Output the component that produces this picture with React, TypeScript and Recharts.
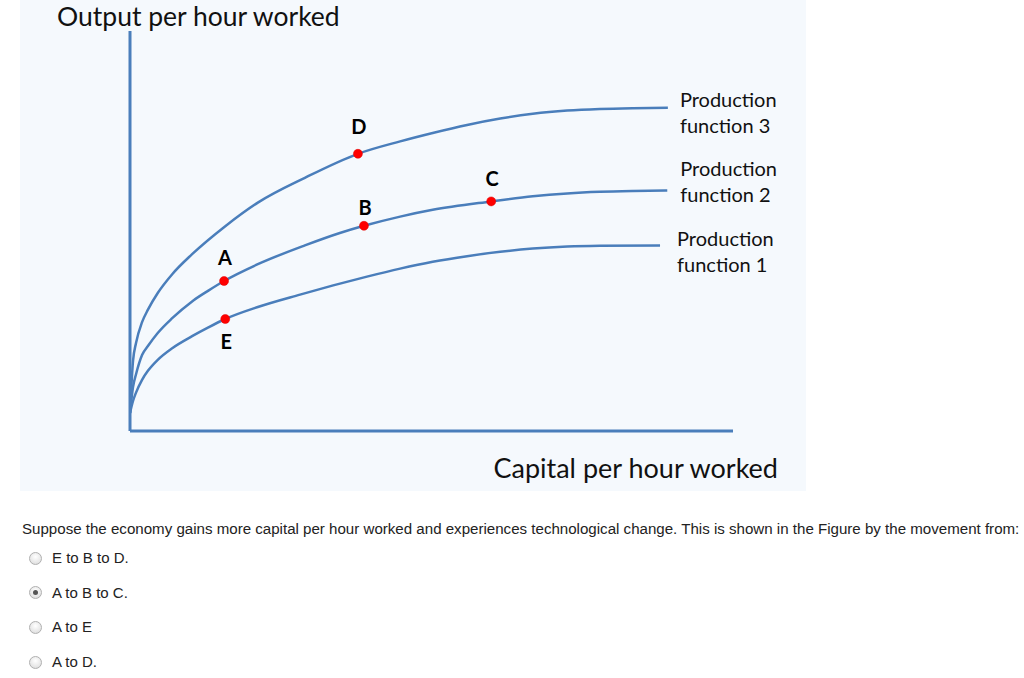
import React from 'react';
import { LineChart, Line, XAxis, YAxis, ReferenceDot } from 'recharts';

// Production function 1 (lowest)
const pf1 = [
  { k: 0, y: 0.45 }, { k: 0.05, y: 0.75 }, { k: 0.1, y: 0.96 }, { k: 0.2, y: 1.28 },
  { k: 0.3, y: 1.51 }, { k: 0.46, y: 1.78 }, { k: 0.7, y: 2.07 }, { k: 1.03, y: 2.37 },
  { k: 1.3, y: 2.59 }, { k: 1.58, y: 2.8 }, { k: 2.12, y: 3.1 }, { k: 2.82, y: 3.41 },
  { k: 3.37, y: 3.64 }, { k: 3.93, y: 3.86 }, { k: 4.48, y: 4.06 }, { k: 5.02, y: 4.23 },
  { k: 5.59, y: 4.37 }, { k: 6.14, y: 4.48 }, { k: 6.68, y: 4.56 }, { k: 7.25, y: 4.61 },
  { k: 7.79, y: 4.63 }, { k: 8.79, y: 4.64 },
];
// Production function 2 (middle)
const pf2 = [
  { k: 0, y: 0.45 }, { k: 0.05, y: 1.1 }, { k: 0.1, y: 1.42 }, { k: 0.2, y: 1.9 },
  { k: 0.3, y: 2.13 }, { k: 0.46, y: 2.45 }, { k: 0.7, y: 2.82 }, { k: 1.03, y: 3.24 },
  { k: 1.3, y: 3.51 }, { k: 1.56, y: 3.75 }, { k: 2.12, y: 4.17 }, { k: 2.9, y: 4.64 },
  { k: 3.48, y: 4.95 }, { k: 3.88, y: 5.13 }, { k: 4.48, y: 5.36 }, { k: 5.02, y: 5.53 },
  { k: 5.99, y: 5.74 }, { k: 6.68, y: 5.87 }, { k: 7.25, y: 5.94 }, { k: 7.79, y: 5.98 },
  { k: 8.34, y: 6.0 }, { k: 8.91, y: 6.01 },
];
// Production function 3 (highest)
const pf3 = [
  { k: 0, y: 0.45 }, { k: 0.05, y: 1.75 }, { k: 0.1, y: 2.2 }, { k: 0.2, y: 2.72 },
  { k: 0.3, y: 3.04 }, { k: 0.46, y: 3.45 }, { k: 0.7, y: 3.92 }, { k: 1.03, y: 4.42 },
  { k: 1.58, y: 5.12 }, { k: 2.12, y: 5.71 }, { k: 2.9, y: 6.33 }, { k: 3.78, y: 6.93 },
  { k: 4.48, y: 7.24 }, { k: 5.02, y: 7.45 }, { k: 5.59, y: 7.65 }, { k: 6.14, y: 7.81 },
  { k: 6.68, y: 7.93 }, { k: 7.25, y: 8.01 }, { k: 7.79, y: 8.05 }, { k: 8.34, y: 8.07 },
  { k: 8.92, y: 8.08 },
];

const curveLabels = [
  ['Production', 'function 1'],
  ['Production', 'function 2'],
  ['Production', 'function 3'],
];

const pointNames = ['A', 'B', 'C', 'D', 'E'];
const pointCapital = [1.56, 3.88, 5.99, 3.78, 1.58];
const pointOutput = [3.75, 5.13, 5.74, 6.93, 2.8];

const yTitle = 'Output per hour worked';
const xTitle = 'Capital per hour worked';

const question =
  'Suppose the economy gains more capital per hour worked and experiences technological change. This is shown in the Figure by the movement from:';
const options = ['E to B to D.', 'A to B to C.', 'A to E', 'A to D.'];
const selectedOption = 1;

// styling
const BLUE = '#4a7ebb';
const CHART_FONT = 'Lato, "Open Sans", sans-serif';
const pointLabelOffset: Record<string, number> = { A: -24, B: -19, C: -23, D: -28, E: 22 };
const curveLabelStyle = [
  { dx: 17, dy: -7 },
  { dx: 13, dy: -23 },
  { dx: 12, dy: -9 },
];

const makeCurveLabel = (idx: number, len: number) => (props: any) => {
  if (props.index !== len - 1) return null;
  const { x, y } = props;
  const s = curveLabelStyle[idx];
  return (
    <text
      x={x + s.dx}
      y={y + s.dy}
      fontFamily={CHART_FONT}
      fontSize={20}
      fill="#111"
      dominantBaseline="central"
    >
      <tspan x={x + s.dx} dy={0}>{curveLabels[idx][0]}</tspan>
      <tspan x={x + s.dx} dy={26}>{curveLabels[idx][1]}</tspan>
    </text>
  );
};

const makePointLabel = (name: string) => (props: any) => {
  const vb = props.viewBox || {};
  const cx = vb.x + (vb.width || 0) / 2;
  const cy = vb.y + (vb.height || 0) / 2;
  return (
    <text
      x={cx + 1}
      y={cy + pointLabelOffset[name]}
      textAnchor="middle"
      dominantBaseline="central"
      fontFamily={CHART_FONT}
      fontWeight={700}
      fontSize={20}
      fill="#000"
    >
      {name}
    </text>
  );
};

const YTitle = (props: any) => {
  const vb = props.viewBox;
  return (
    <text x={vb.x - 72} y={vb.y - 5} fontFamily={CHART_FONT} fontSize={26.5} fill="#111">
      {yTitle}
    </text>
  );
};

const XTitle = (props: any) => {
  const vb = props.viewBox;
  return (
    <text
      x={vb.x + vb.width + 45}
      y={vb.y + 36}
      textAnchor="end"
      dominantBaseline="central"
      fontFamily={CHART_FONT}
      fontSize={27}
      fill="#111"
    >
      {xTitle}
    </text>
  );
};

const Radio = ({ checked }: { checked: boolean }) => (
  <div
    style={{
      width: 13,
      height: 13,
      borderRadius: '50%',
      border: '1px solid #b0b0b0',
      background: 'radial-gradient(circle at 50% 35%, #ffffff 0%, #e4e4e4 70%, #cfcfcf 100%)',
      position: 'relative',
      boxSizing: 'border-box',
    }}
  >
    {checked && (
      <div
        style={{
          position: 'absolute',
          left: 3,
          top: 3,
          width: 5,
          height: 5,
          borderRadius: '50%',
          background: '#555',
        }}
      />
    )}
  </div>
);

export default function App() {
  return (
    <div style={{ position: 'absolute', left: 0, top: 0, width: 1024, height: 678, background: '#fff' }}>
      <div style={{ position: 'absolute', left: 20, top: 0, width: 786, height: 491, background: '#f5f9fd' }}>
        <LineChart
          width={786}
          height={491}
          margin={{ top: 31, right: 73, bottom: 59, left: 109 }}
        >
          <XAxis
            type="number"
            dataKey="k"
            domain={[0, 10]}
            height={1}
            tick={false}
            tickLine={false}
            axisLine={{ stroke: BLUE, strokeWidth: 3 }}
            label={<XTitle />}
            allowDataOverflow
          />
          <YAxis
            type="number"
            dataKey="y"
            domain={[0, 10]}
            width={1}
            tick={false}
            tickLine={false}
            axisLine={{ stroke: BLUE, strokeWidth: 3 }}
            label={<YTitle />}
            allowDataOverflow
          />
          <Line
            data={pf1}
            dataKey="y"
            type="monotone"
            stroke={BLUE}
            strokeWidth={2.5}
            dot={false}
            activeDot={false}
            isAnimationActive={false}
            label={makeCurveLabel(0, pf1.length)}
          />
          <Line
            data={pf2}
            dataKey="y"
            type="monotone"
            stroke={BLUE}
            strokeWidth={2.5}
            dot={false}
            activeDot={false}
            isAnimationActive={false}
            label={makeCurveLabel(1, pf2.length)}
          />
          <Line
            data={pf3}
            dataKey="y"
            type="monotone"
            stroke={BLUE}
            strokeWidth={2.5}
            dot={false}
            activeDot={false}
            isAnimationActive={false}
            label={makeCurveLabel(2, pf3.length)}
          />
          {pointNames.map((n, i) => (
            <ReferenceDot
              key={n}
              x={pointCapital[i]}
              y={pointOutput[i]}
              r={4.5}
              fill="#ff0000"
              stroke="#e00000"
              strokeWidth={0.5}
              label={makePointLabel(n)}
            />
          ))}
        </LineChart>
      </div>
      <div
        style={{
          position: 'absolute',
          left: 22,
          top: 520,
          fontFamily: '"Liberation Sans", Arial, sans-serif',
          fontSize: 15.1,
          lineHeight: '18px',
          color: '#222',
          whiteSpace: 'nowrap',
        }}
      >
        {question}
      </div>
      {options.map((o, i) => (
        <div
          key={o}
          style={{
            position: 'absolute',
            left: 29,
            top: 549 + i * 34.7,
            display: 'flex',
            alignItems: 'center',
            fontFamily: '"Liberation Sans", Arial, sans-serif',
            fontSize: 15,
            lineHeight: '18px',
            color: '#222',
          }}
        >
          <Radio checked={i === selectedOption} />
          <span style={{ marginLeft: 10 }}>{o}</span>
        </div>
      ))}
    </div>
  );
}
